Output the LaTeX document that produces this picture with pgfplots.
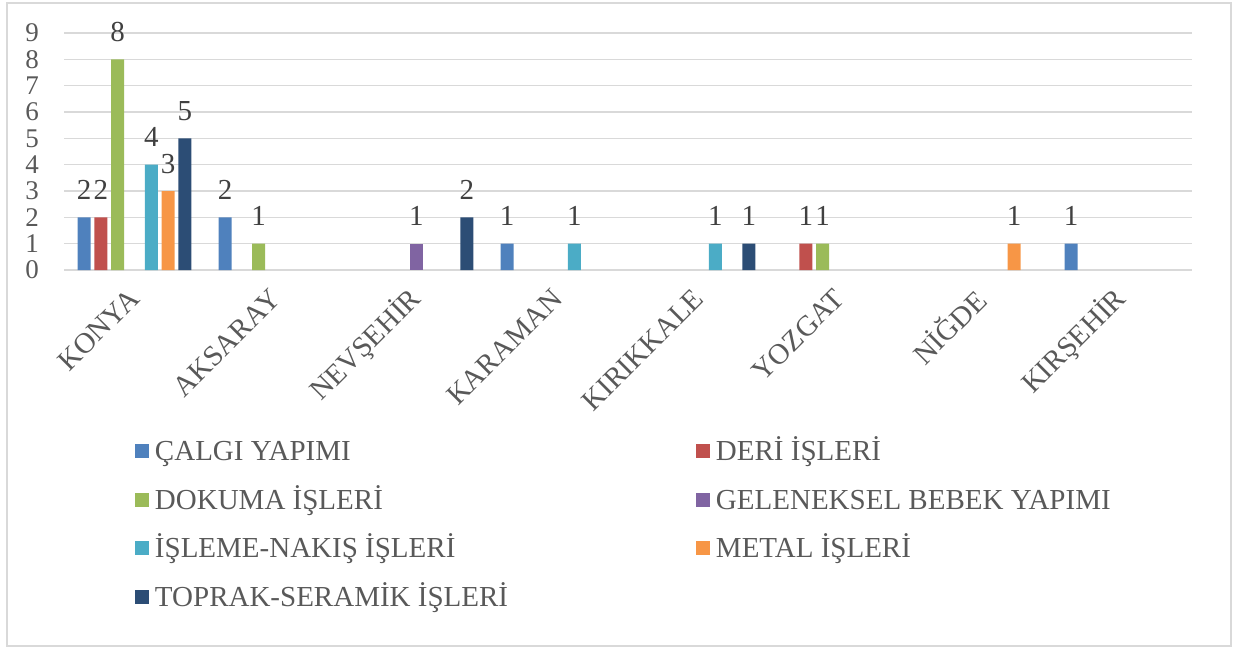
\documentclass[border=0pt]{standalone}
\usepackage{fontspec}
\setmainfont{Liberation Serif}
\usepackage{pgfplots}
\pgfplotsset{compat=1.18}
\definecolor{cA}{HTML}{4F81BD}
\definecolor{cB}{HTML}{C0504D}
\definecolor{cC}{HTML}{9BBB59}
\definecolor{cD}{HTML}{8064A2}
\definecolor{cE}{HTML}{4BACC6}
\definecolor{cF}{HTML}{F79646}
\definecolor{cG}{HTML}{2C4D75}
\definecolor{cGrid}{HTML}{D9D9D9}
\definecolor{cTxt}{HTML}{595959}
\definecolor{cLab}{HTML}{404040}
\pgfplotsset{/pgf/number format/assume math mode=true}
\begin{document}
\begin{tikzpicture}
\path[use as bounding box] (0pt,0pt) rectangle (1234pt,649pt);
\draw[cGrid, line width=1.5pt] (7pt,3pt) rectangle (1231pt,646pt);
\begin{axis}[
  at={(64pt,379pt)}, anchor=south west,
  scale only axis, width=1128pt, height=237pt,
  xmin=-0.5, xmax=7.5, ymin=0, ymax=9,
  clip=false,
  ybar=3.8pt, bar width=13pt,
  xtick={0,...,7},
  xticklabels={KONYA,AKSARAY,NEVŞEHİR,KARAMAN,KIRIKKALE,YOZGAT,NİĞDE,KIRŞEHİR},
  ytick={0,...,9},
  ymajorgrids, grid style={cGrid, line width=1.5pt},
  axis line style={draw=none},
  major tick length=0pt,
  yticklabel style={font=\fontsize{27}{27}\selectfont, text=cTxt, anchor=east, inner sep=0pt, xshift=-25pt},
  xticklabel style={font=\fontsize{29}{29}\selectfont, text=cTxt, inner sep=0pt, yshift=-24pt, rotate=45, anchor=east},
  nodes near coords,
  every node near coord/.append style={font=\fontsize{29}{29}\selectfont, text=cLab, anchor=base, inner sep=0pt, yshift=18pt},
  legend columns=2,
  legend cell align=left,
  legend image code/.code={\fill[#1] (0pt,-7pt) rectangle (14pt,7pt);},
  legend style={at={(0.06294,-0.70169)}, anchor=north west, draw=none, fill=none,
    inner sep=0pt, outer sep=0pt, row sep=20pt, column sep=0pt,
    font=\fontsize{29}{29}\selectfont, text=cTxt,
    nodes={inner xsep=6pt, inner ysep=0pt, text height=24pt, text depth=4.8pt}},
]
\addplot[fill=cA, draw=none] coordinates {(0,2) (1,2) (3,1) (7,1)};
\addlegendentry{\makebox[535pt][l]{ÇALGI YAPIMI}}
\addplot[fill=cB, draw=none] coordinates {(0,2) (5,1)};
\addlegendentry{\makebox[535pt][l]{DERİ İŞLERİ}}
\addplot[fill=cC, draw=none] coordinates {(0,8) (1,1) (5,1)};
\addlegendentry{\makebox[535pt][l]{DOKUMA İŞLERİ}}
\addplot[fill=cD, draw=none] coordinates {(2,1)};
\addlegendentry{\makebox[535pt][l]{GELENEKSEL BEBEK YAPIMI}}
\addplot[fill=cE, draw=none] coordinates {(0,4) (3,1) (4,1)};
\addlegendentry{\makebox[535pt][l]{İŞLEME-NAKIŞ İŞLERİ}}
\addplot[fill=cF, draw=none] coordinates {(0,3) (6,1)};
\addlegendentry{\makebox[535pt][l]{METAL İŞLERİ}}
\addplot[fill=cG, draw=none] coordinates {(0,5) (2,2) (4,1)};
\addlegendentry{\makebox[535pt][l]{TOPRAK-SERAMİK İŞLERİ}}
\end{axis}
\end{tikzpicture}
\end{document}
